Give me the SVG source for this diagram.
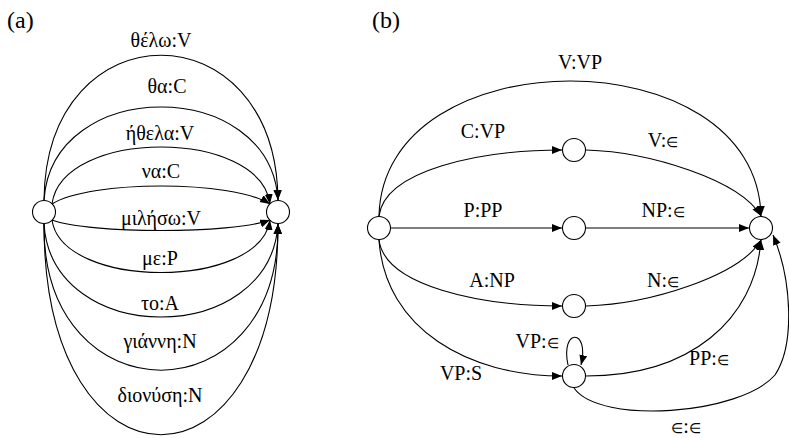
<svg xmlns="http://www.w3.org/2000/svg" width="789" height="438" viewBox="0 0 789 438">
<style>
.e{fill:none;stroke:#000;stroke-width:1.1;marker-end:url(#ah)}
.n{fill:#fff;stroke:#000;stroke-width:1.1}
text{font-family:"Liberation Serif","Times New Roman",serif;font-size:20px;fill:#000}
.m{text-anchor:middle}
.p{font-size:24px}
.s{font-size:14px}
</style>
<defs>
<marker id="ah" markerUnits="userSpaceOnUse" markerWidth="11" markerHeight="9" refX="10" refY="4" orient="auto" viewBox="0 0 11 9">
<path d="M0,0 L10,4 L0,8 z" fill="#000"/>
</marker>
</defs>
<rect width="789" height="438" fill="#fff"/>
<text class="p" x="7" y="28">(a)</text>
<text class="p" x="372" y="28">(b)</text>
<g id="connectors">
<!-- panel a -->
<path class="e" d="M44,200 C46,7 276,7 278,200"/>
<path class="e" d="M44,200 C52,76 270,76 278,200"/>
<path class="e" d="M52,204 C62,128 260,128 270,204"/>
<path class="e" d="M52,204 C90,180 232,180 270,204"/>
<path class="e" d="M52,220 C90,234 232,234 270,220"/>
<path class="e" d="M52,220 C62,290 260,290 270,220"/>
<path class="e" d="M44,224 C52,348 270,348 278,224"/>
<path class="e" d="M44,224 C42,419 280,419 278,224"/>
<path class="e" d="M44,224 C44,505 278,505 278,224"/>
<!-- panel b -->
<path class="e" d="M379,216 C383,36 757,36 761,216"/>
<path class="e" d="M379,216 C385,170 480,150 562,150"/>
<path class="e" d="M586,150 C650,152 740,180 761,216"/>
<path class="e" d="M391,228 L562,228"/>
<path class="e" d="M586,228 L749,228"/>
<path class="e" d="M379,240 C385,286 480,306 562,306"/>
<path class="e" d="M586,306 C650,304 740,276 761,240"/>
<path class="e" d="M379,240 C385,330 470,376 562,376"/>
<path class="e" d="M586,376 C690,376 755,320 761,240"/>
<path class="e" d="M568,365 C560,328 590,328 581,365"/>
<path class="e" d="M574,388 C600,425 740,415 775,375 C795,345 792,280 773,235"/>
</g>
<g id="a-start"><circle class="n" cx="44" cy="212" r="11.5"/></g>
<g id="a-end"><circle class="n" cx="278" cy="212" r="11.5"/></g>
<g id="b-start"><circle class="n" cx="379" cy="228" r="11.5"/></g>
<g id="b-c"><circle class="n" cx="574" cy="150" r="11.5"/></g>
<g id="b-p"><circle class="n" cx="574" cy="228" r="11.5"/></g>
<g id="b-a"><circle class="n" cx="574" cy="306" r="11.5"/></g>
<g id="b-vp"><circle class="n" cx="574" cy="376" r="11.5"/></g>
<g id="b-end"><circle class="n" cx="761" cy="228" r="11.5"/></g>
<g id="labels">
<text class="m" x="161" y="47">θέλω:V</text>
<text class="m" x="167" y="93">θα:C</text>
<text class="m" x="160" y="140">ήθελα:V</text>
<text class="m" x="161" y="178">να:C</text>
<text class="m" x="161" y="225">μιλήσω:V</text>
<text class="m" x="160" y="265">με:P</text>
<text class="m" x="160" y="310">το:A</text>
<text class="m" x="160" y="348">γιάννη:N</text>
<text class="m" x="160" y="402">διονύση:N</text>
<text class="m" x="580" y="69">V:VP</text>
<text class="m" x="483" y="138">C:VP</text>
<text class="m" x="663" y="147">V:<tspan class="s">∈</tspan></text>
<text class="m" x="483" y="217">P:PP</text>
<text class="m" x="663" y="217">NP:<tspan class="s">∈</tspan></text>
<text class="m" x="492" y="287">A:NP</text>
<text class="m" x="663" y="287">N:<tspan class="s">∈</tspan></text>
<text class="m" x="537" y="348">VP:<tspan class="s">∈</tspan></text>
<text class="m" x="461" y="380">VP:S</text>
<text class="m" x="709" y="365">PP:<tspan class="s">∈</tspan></text>
<text class="m" x="686" y="433"><tspan class="s">∈</tspan>:<tspan class="s">∈</tspan></text>
</g>
</svg>
